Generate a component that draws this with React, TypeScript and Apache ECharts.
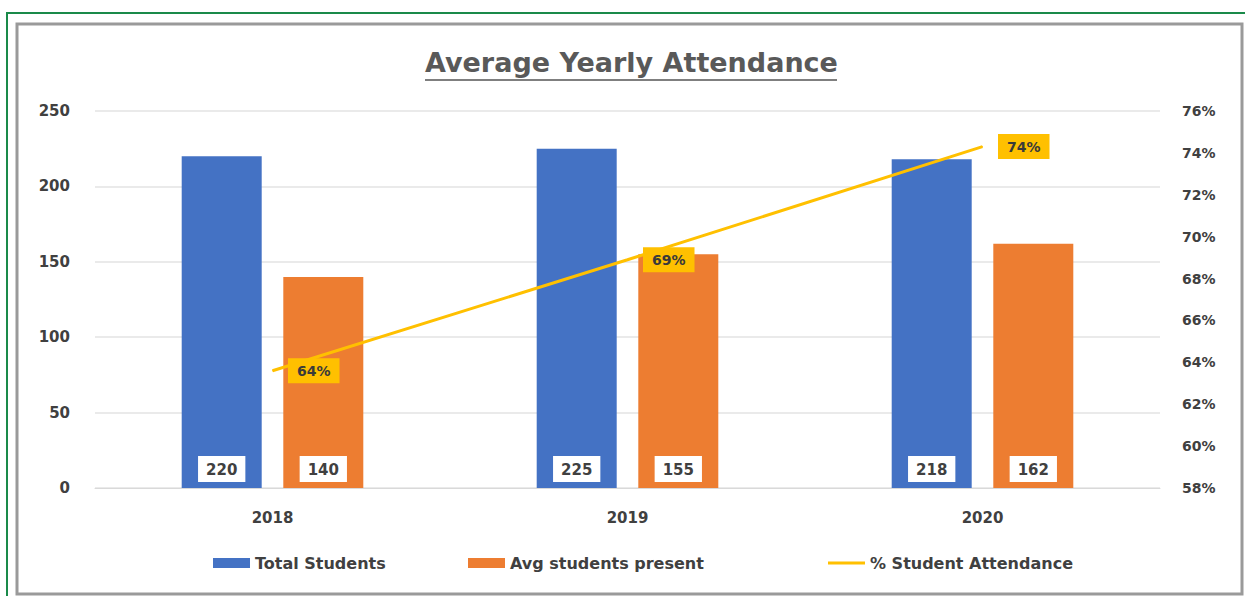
import React, { useEffect, useRef } from "react";
import * as echarts from "echarts";

const categories = ["2018", "2019", "2020"];
const totalStudents = [220, 225, 218];
const avgPresent = [140, 155, 162];
const attendancePct = [63.6, 68.9, 74.3];
const leftTicks = { min: 0, max: 250, interval: 50 };
const rightTicks = { min: 58, max: 76, interval: 2 };

const FONT = "'DejaVu Sans', 'Open Sans', sans-serif";
const TEXT = "#404040";

export default function App() {
  const ref = useRef<HTMLDivElement>(null);
  useEffect(() => {
    if (!ref.current) return;
    const chart = echarts.init(ref.current, undefined, { renderer: "svg" });
    const barLabel = {
      show: true,
      position: "insideBottom",
      distance: 6,
      backgroundColor: "#ffffff",
      padding: [6, 8, 5, 8],
      fontFamily: FONT,
      fontSize: 15,
      fontWeight: "bold",
      color: TEXT,
    };
    const legendText = { fontFamily: FONT, fontSize: 16, fontWeight: "bold", color: TEXT };
    chart.setOption({
      animation: false,
      backgroundColor: "#ffffff",
      textStyle: { fontFamily: FONT },
      title: {
        text: "Average Yearly Attendance",
        left: 420,
        top: 44,
        textStyle: { fontFamily: FONT, fontSize: 27, fontWeight: "bold", color: "#595959" },
      },
      graphic: [
        { type: "rect", shape: { x: 7, y: 13, width: 1250, height: 600 }, style: { fill: "none", stroke: "#1a8a4a", lineWidth: 2 }, silent: true },
        { type: "rect", shape: { x: 17, y: 24, width: 1225, height: 570 }, style: { fill: "none", stroke: "#9a9a9a", lineWidth: 3 }, silent: true },
        { type: "line", shape: { x1: 425, y1: 80, x2: 837, y2: 80 }, style: { stroke: "#7f7f7f", lineWidth: 2 }, silent: true },
      ],
      legend: [
        {
          left: 208,
          top: 550,
          itemWidth: 37,
          itemHeight: 10,
          textStyle: legendText,
          data: [{ name: "Total Students", icon: "rect" }],
        },
        {
          left: 463,
          top: 550,
          itemWidth: 37,
          itemHeight: 10,
          textStyle: legendText,
          data: [{ name: "Avg students present", icon: "rect" }],
        },
        {
          left: 823,
          top: 550,
          itemWidth: 37,
          itemHeight: 3,
          textStyle: legendText,
          data: [{ name: "% Student Attendance", icon: "rect" }],
        },
      ],
      grid: { left: 95, right: 85, top: 111, bottom: 108 },
      xAxis: {
        type: "category",
        data: categories,
        axisLine: { show: true, lineStyle: { color: "#d9d9d9", width: 1 } },
        axisTick: { show: false },
        axisLabel: { margin: 22, fontFamily: FONT, fontSize: 15, fontWeight: "bold", color: TEXT },
      },
      yAxis: [
        {
          type: "value",
          min: leftTicks.min,
          max: leftTicks.max,
          interval: leftTicks.interval,
          axisLine: { show: false },
          axisTick: { show: false },
          splitLine: { lineStyle: { color: "#e3e3e3", width: 1.5 } },
          axisLabel: { margin: 25, fontFamily: FONT, fontSize: 15, fontWeight: "bold", color: TEXT },
        },
        {
          type: "value",
          min: rightTicks.min,
          max: rightTicks.max,
          interval: rightTicks.interval,
          axisLine: { show: false },
          axisTick: { show: false },
          splitLine: { show: false },
          axisLabel: {
            margin: 22,
            fontFamily: FONT,
            fontSize: 14,
            fontWeight: "bold",
            color: TEXT,
            formatter: (v: number) => `${Math.round(v)}%`,
          },
        },
      ],
      series: [
        {
          name: "Total Students",
          type: "bar",
          data: totalStudents,
          barWidth: 80,
          barGap: "27%",
          itemStyle: { color: "#4472C4" },
          label: barLabel,
        },
        {
          name: "Avg students present",
          type: "bar",
          data: avgPresent,
          barWidth: 80,
          itemStyle: { color: "#ED7D31" },
          label: barLabel,
        },
        {
          name: "% Student Attendance",
          type: "line",
          yAxisIndex: 1,
          data: attendancePct,
          symbol: "circle",
          symbolSize: 1,
          showSymbol: true,
          z: 5,
          lineStyle: { color: "#FFC000", width: 3 },
          itemStyle: { color: "#FFC000" },
          label: {
            show: true,
            position: "right",
            distance: 15,
            backgroundColor: "#FFC000",
            padding: [6, 9, 5, 9],
            fontFamily: FONT,
            fontSize: 14,
            fontWeight: "bold",
            color: "#3a3a3a",
            formatter: (p: any) => `${Math.round(p.value)}%`,
          },
        },
      ],
    });
    return () => chart.dispose();
  }, []);
  return (
    <div
      ref={ref}
      style={{ position: "fixed", left: 0, top: 0, width: 1245, height: 596 }}
    />
  );
}
